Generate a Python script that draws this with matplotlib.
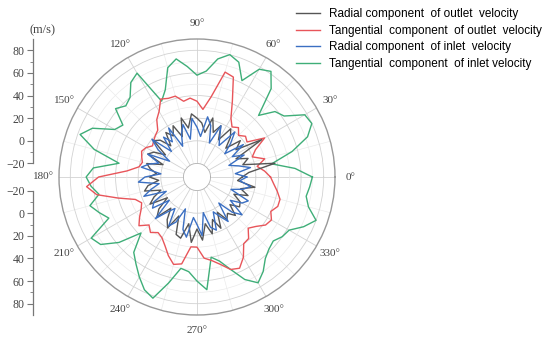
import numpy as np
import matplotlib
matplotlib.use('Agg')
import matplotlib.pyplot as plt

# angles (deg), one value every 5 degrees
angles = np.arange(0, 360, 5)

# radial component of outlet velocity (m/s)
radial_out = [8, 14, 38, 10, 16, 6, 34, 10, 18, 4, 14, 20, 6, 18, 10, 22, 8, 16,
              20, 24, 12, 22, 6, 18, 10, 16, 4, 14, 18, 2, 12, 16, 0, 14, 10, 4,
              10, 2, 12, 16, 2, 10, 16, 0, 12, 18, 4, 14, 20, 6, 22, 24, 10, 26,
              14, 24, 10, 20, 8, 18, 4, 14, 10, 16, 6, 14, 12, 4, 16, 8, 20, 4]
# tangential component of outlet velocity
tang_out = [33, 28, 22, 30, 20, 25, 37, 22, 24, 20, 25, 22, 28, 42, 62, 64, 40, 28,
            35, 38, 36, 42, 42, 44, 35, 30, 22, 20, 18, 16, 20, 22, 20, 18, 20, 30,
            55, 66, 58, 40, 26, 22, 25, 30, 35, 28, 32, 28, 30, 35, 42, 48, 46, 30,
            30, 40, 43, 48, 55, 57, 50, 40, 39, 32, 36, 42, 44, 40, 44, 44, 40, 36]
# radial component of inlet velocity
radial_in = [12, 2, 16, 6, -2, 14, 4, 18, 0, 10, 20, 2, 8, 18, 0, 15, 22, 4,
             12, 20, 2, 16, 8, -2, 18, 6, 14, 0, 20, 10, -4, 16, 4, 12, 18, 0,
             14, 20, 2, 10, 18, -2, 12, 16, 0, 20, 8, 2, 18, 12, -2, 16, 22, 4,
             10, 20, 0, 14, 18, 2, 8, 16, -2, 12, 20, 4, 14, 18, 0, 10, 16, 6]
# tangential component of inlet velocity
tang_in = [70, 55, 35, 55, 72, 80, 78, 62, 58, 45, 70, 82, 78, 62, 76, 80, 74, 62,
           58, 66, 74, 68, 50, 42, 74, 70, 60, 57, 62, 48, 52, 70, 78, 62, 38, 60,
           66, 62, 56, 66, 60, 54, 76, 72, 58, 38, 55, 62, 70, 78, 82, 65, 50, 52,
           60, 68, 40, 45, 55, 68, 76, 70, 62, 58, 56, 60, 62, 72, 80, 70, 66, 68]

labels = ['Radial component  of outlet  velocity',
          'Tangential  component  of outlet  velocity',
          'Radial component  of inlet  velocity',
          'Tangential  component  of inlet velocity']
colors = ['#555555', '#e8555a', '#3b6fc2', '#3fae78']

W, H = 550, 339
cx, cy, R = 197, 177, 138
rmin, rmax, rorig = -20, 90, -32

def r_px(r):
    return (r - rorig) / (rmax - rorig) * R

fig = plt.figure(figsize=(W / 100, H / 100), dpi=100)
ax = fig.add_axes([(cx - R) / W, (H - cy - R) / H, 2 * R / W, 2 * R / H],
                  projection='polar')

th = np.deg2rad(np.append(angles, angles[0]))
series = [radial_out, tang_out, radial_in, tang_in]
order = [3, 1, 0, 2]
handles = [None] * 4
for i in order:
    vals = np.append(series[i], series[i][0])
    ln, = ax.plot(th, vals, color=colors[i], lw=1.0, label=labels[i])
    handles[i] = ln

ax.set_rlim(rmin, rmax)
ax.set_rorigin(rorig)
ax.set_yticks([0, 20, 40, 60, 80])
ax.set_yticks([10, 30, 50, 70], minor=True)
ax.set_yticklabels([])
ax.set_xticks(np.deg2rad(np.arange(0, 360, 30)))
ax.set_xticks(np.deg2rad(np.arange(15, 360, 30)), minor=True)
ax.set_xticklabels(['%d°' % a for a in range(0, 360, 30)],
                   fontsize=8, family='Liberation Serif', color='#444444')
ax.tick_params(axis='x', pad=4, length=3, color='#999999', direction='in')
ax.tick_params(axis='x', which='minor', length=2, color='#999999', direction='in')
ax.tick_params(axis='y', length=0, which='both')
ax.grid(True, which='major', color='#d2d2d2', lw=0.6)
ax.grid(True, which='minor', color='#ebebeb', lw=0.5)
ax.spines['polar'].set_color('#999999')
ax.spines['polar'].set_linewidth(1.0)
ax.spines['inner'].set_color('#b0b0b0')
ax.spines['inner'].set_linewidth(0.6)

# left radial scale, drawn as two stacked axes
x0 = 33 / W
inner = r_px(rmin)
up = fig.add_axes([x0, (H - cy + inner) / H, 0.0005, (R - inner) / H])
lo = fig.add_axes([x0, (H - cy - R) / H, 0.0005, (R - inner) / H])
up.set_ylim(rmin, rmax)
lo.set_ylim(rmax, rmin)
for a in (up, lo):
    for s in ['top', 'right', 'bottom']:
        a.spines[s].set_visible(False)
    a.spines['left'].set_color('#777777')
    a.spines['left'].set_linewidth(0.9)
    a.set_xticks([])
    a.set_yticks([-20, 0, 20, 40, 60, 80])
    a.set_yticks([-10, 10, 30, 50, 70], minor=True)
    a.tick_params(axis='y', length=4, width=0.8, color='#777777',
                  labelsize=8.5, labelcolor='#444444', pad=2)
    a.tick_params(axis='y', which='minor', length=2, width=0.6, color='#777777')
    for t in a.get_yticklabels():
        t.set_family('Liberation Serif')
    a.patch.set_visible(False)

fig.text(43 / W, 1 - 30 / H, '(m/s)', ha='center', va='center',
         fontsize=9, family='Liberation Serif', color='#444444')

fig.legend(handles=handles, labels=labels, loc='upper left',
           bbox_to_anchor=(296 / W, 1 - 8 / H), frameon=False,
           borderaxespad=0, borderpad=0, handlelength=2.0,
           handletextpad=0.8, labelspacing=0.4,
           prop={'family': 'Liberation Sans', 'size': 8.5})

fig.savefig('out.png', dpi=100)
